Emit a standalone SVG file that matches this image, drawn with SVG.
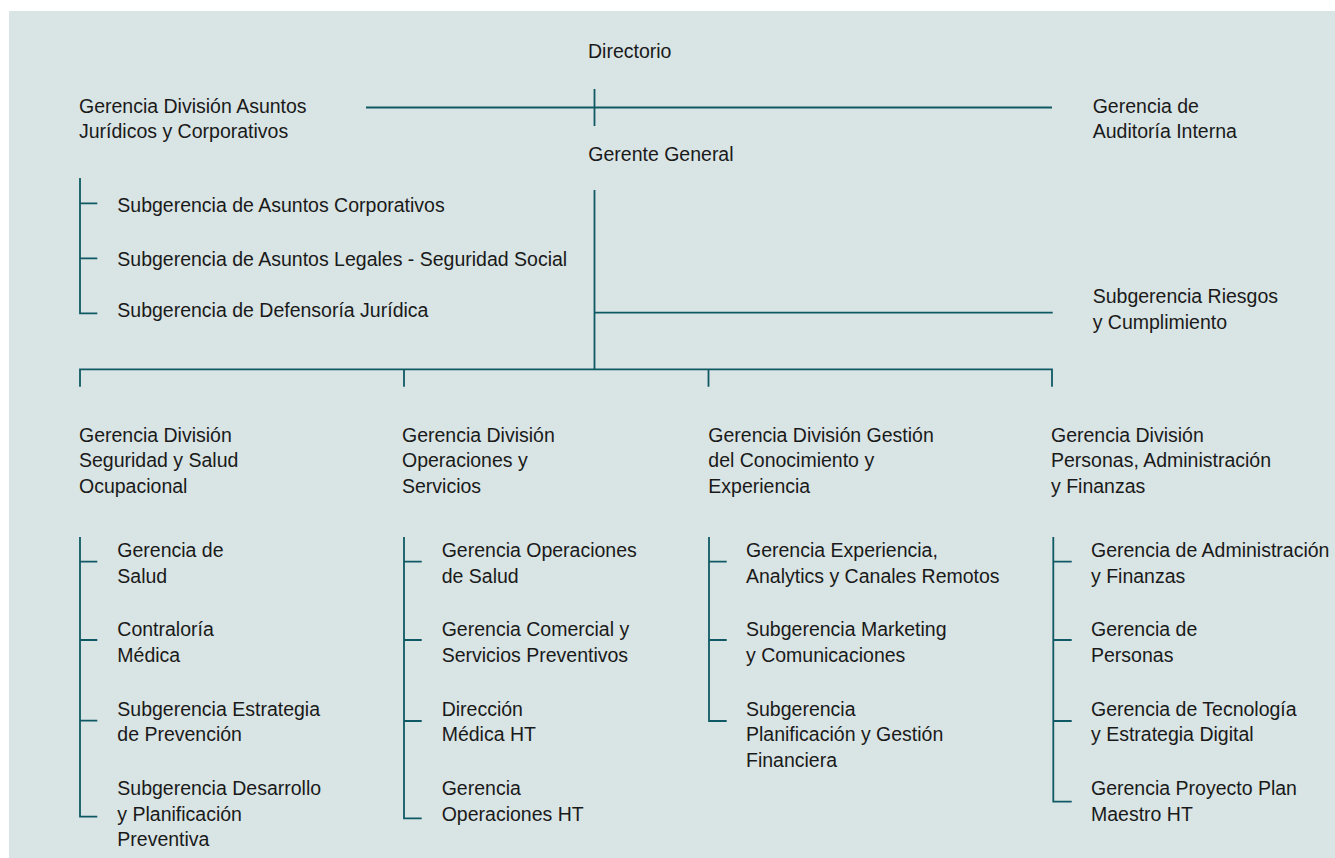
<svg xmlns="http://www.w3.org/2000/svg" width="1335" height="858" viewBox="0 0 1335 858">
<style>
text{font-family:"Liberation Sans",Arial,Helvetica,sans-serif;font-size:19.5px;fill:#1a1a1a}
.c{stroke:#0f5964;stroke-width:1.8;fill:none;stroke-linecap:butt}
</style>
<rect x="0" y="0" width="1335" height="858" fill="#ffffff"/>
<rect x="9" y="11" width="1326" height="847" fill="#d9e4e4"/>
<g id="connectors" class="c">
<path d="M366 107.5H1052M594.5 89V126"/>
<path d="M594.5 190V369M594.5 312.7H1052.7"/>
<path d="M80 386.7V369.3H1052V386.7M404 369.3V386.7M708.5 369.3V386.7"/>
<path d="M80 178V313.3H97.3M80 203.3H97.3M80 258.3H97.3"/>
<path d="M80 537V816.7H97.3M80 561.7H97.3M80 640H97.3M80 720.7H97.3"/>
<path d="M404 537V818.3H421.7M404 561.7H421.7M404 640H421.7M404 721H421.7"/>
<path d="M709 537V721H726.7M709 561.7H726.7M709 640H726.7"/>
<path d="M1053.3 537V801.7H1071.7M1053.3 561.7H1071.7M1053.3 640H1071.7M1053.3 721H1071.7"/>
</g>
<g id="directorio"><text x="588" y="58">Directorio</text></g>
<g id="gerente-general"><text x="588.3" y="160.5">Gerente General</text></g>
<g id="gd-juridicos"><text x="79" y="112.5">Gerencia División Asuntos<tspan x="79" dy="25.5">Jurídicos y Corporativos</tspan></text></g>
<g id="auditoria"><text x="1092.7" y="112.7">Gerencia de<tspan x="1092.7" dy="25.5">Auditoría Interna</tspan></text></g>
<g id="sub-corporativos"><text x="117.3" y="212">Subgerencia de Asuntos Corporativos</text></g>
<g id="sub-legales"><text x="117.3" y="265.7">Subgerencia de Asuntos Legales - Seguridad Social</text></g>
<g id="sub-defensoria"><text x="117.3" y="317.3">Subgerencia de Defensoría Jurídica</text></g>
<g id="sub-riesgos"><text x="1092.7" y="303">Subgerencia Riesgos<tspan x="1092.7" dy="25.5">y Cumplimiento</tspan></text></g>
<g id="gd-seguridad"><text x="79" y="441.7">Gerencia División<tspan x="79" dy="25.5">Seguridad y Salud</tspan><tspan x="79" dy="25.5">Ocupacional</tspan></text></g>
<g id="gd-operaciones"><text x="402" y="441.7">Gerencia División<tspan x="402" dy="25.5">Operaciones y</tspan><tspan x="402" dy="25.5">Servicios</tspan></text></g>
<g id="gd-conocimiento"><text x="708.3" y="441.7">Gerencia División Gestión<tspan x="708.3" dy="25.5">del Conocimiento y</tspan><tspan x="708.3" dy="25.5">Experiencia</tspan></text></g>
<g id="gd-personas"><text x="1051" y="441.7">Gerencia División<tspan x="1051" dy="25.5">Personas, Administración</tspan><tspan x="1051" dy="25.5">y Finanzas</tspan></text></g>
<g id="g-salud"><text x="117.3" y="557">Gerencia de<tspan x="117.3" dy="25.5">Salud</tspan></text></g>
<g id="contraloria"><text x="117.3" y="636.3">Contraloría<tspan x="117.3" dy="25.5">Médica</tspan></text></g>
<g id="sub-estrategia"><text x="117.3" y="715.7">Subgerencia Estrategia<tspan x="117.3" dy="25.5">de Prevención</tspan></text></g>
<g id="sub-desarrollo"><text x="117.3" y="795">Subgerencia Desarrollo<tspan x="117.3" dy="25.5">y Planificación</tspan><tspan x="117.3" dy="25.5">Preventiva</tspan></text></g>
<g id="g-op-salud"><text x="441.7" y="557">Gerencia Operaciones<tspan x="441.7" dy="25.5">de Salud</tspan></text></g>
<g id="g-comercial"><text x="441.7" y="636.3">Gerencia Comercial y<tspan x="441.7" dy="25.5">Servicios Preventivos</tspan></text></g>
<g id="direccion-medica"><text x="441.7" y="715.7">Dirección<tspan x="441.7" dy="25.5">Médica HT</tspan></text></g>
<g id="g-op-ht"><text x="441.7" y="795">Gerencia<tspan x="441.7" dy="25.5">Operaciones HT</tspan></text></g>
<g id="g-experiencia"><text x="746" y="557">Gerencia Experiencia,<tspan x="746" dy="25.5">Analytics y Canales Remotos</tspan></text></g>
<g id="sub-marketing"><text x="746" y="636.3">Subgerencia Marketing<tspan x="746" dy="25.5">y Comunicaciones</tspan></text></g>
<g id="sub-planificacion"><text x="746" y="715.7">Subgerencia<tspan x="746" dy="25.5">Planificación y Gestión</tspan><tspan x="746" dy="25.5">Financiera</tspan></text></g>
<g id="g-administracion"><text x="1091" y="557">Gerencia de Administración<tspan x="1091" dy="25.5">y Finanzas</tspan></text></g>
<g id="g-personas"><text x="1091" y="636.3">Gerencia de<tspan x="1091" dy="25.5">Personas</tspan></text></g>
<g id="g-tecnologia"><text x="1091" y="715.7">Gerencia de Tecnología<tspan x="1091" dy="25.5">y Estrategia Digital</tspan></text></g>
<g id="g-plan-maestro"><text x="1091" y="795">Gerencia Proyecto Plan<tspan x="1091" dy="25.5">Maestro HT</tspan></text></g>
</svg>
